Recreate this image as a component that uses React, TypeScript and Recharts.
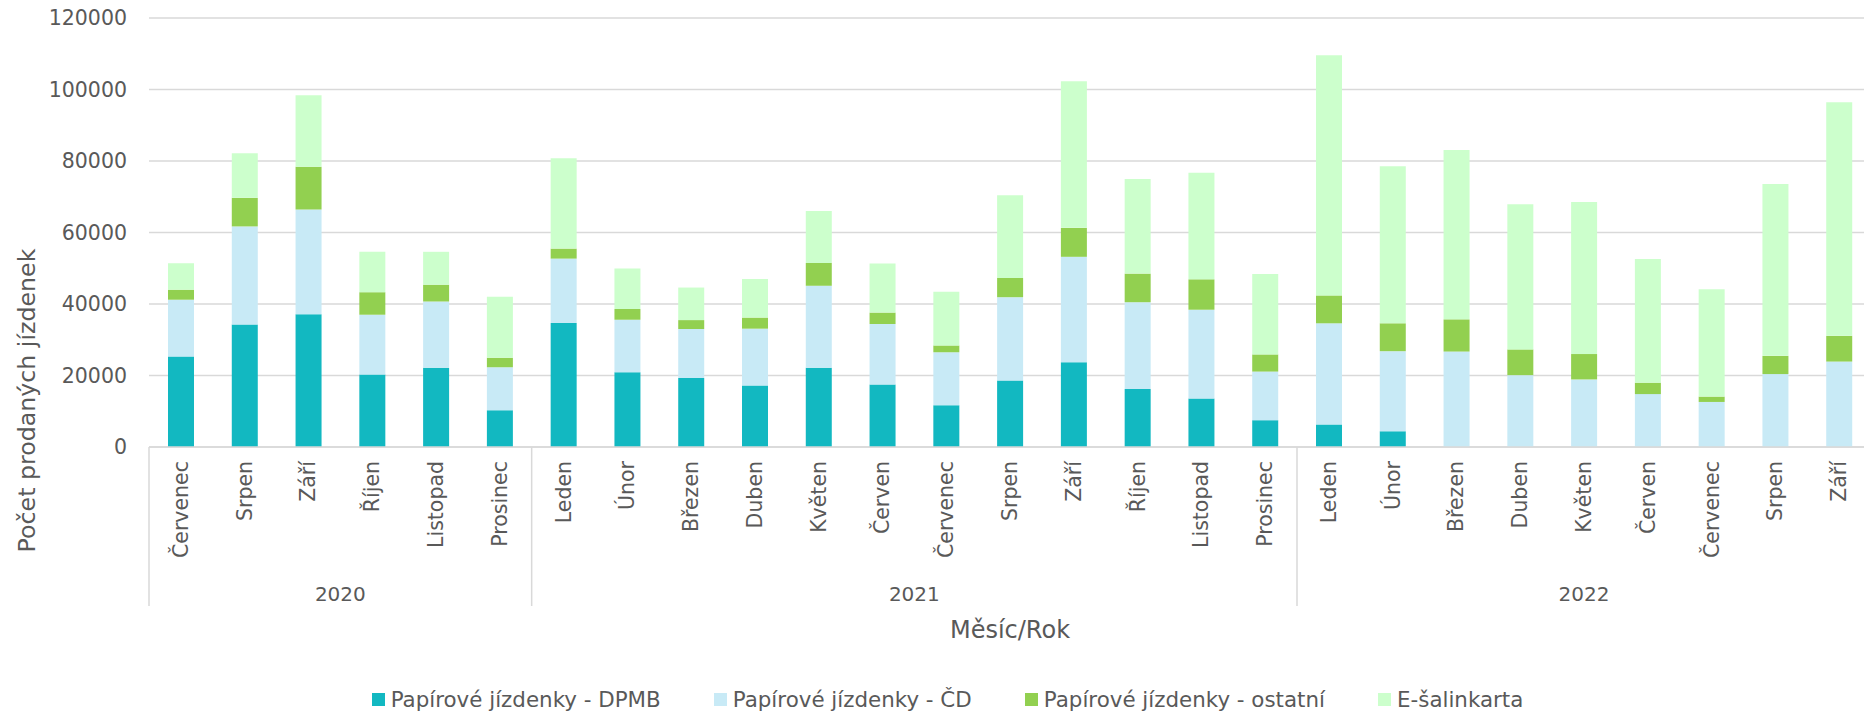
import React from "react"
import { Bar, BarChart, CartesianGrid, Legend, XAxis, YAxis } from "recharts"

const years = ["2020", "2021", "2022"]
const months2020 = ["Červenec", "Srpen", "Září", "Říjen", "Listopad", "Prosinec"]
const months2021 = ["Leden", "Únor", "Březen", "Duben", "Květen", "Červen", "Červenec", "Srpen", "Září", "Říjen", "Listopad", "Prosinec"]
const months2022 = ["Leden", "Únor", "Březen", "Duben", "Květen", "Červen", "Červenec", "Srpen", "Září"]

const dpmb = [25300, 34300, 37100, 20300, 22200, 10300, 34700, 20900, 19300, 17200, 22200, 17500, 11700, 18600, 23700, 16200, 13600, 7500, 6300, 4400, 0, 0, 0, 0, 0, 0, 0]
const cd = [15900, 27400, 29300, 16700, 18500, 12000, 18000, 14700, 13700, 15900, 22900, 16900, 14800, 23300, 29500, 24300, 24800, 13600, 28300, 22400, 26700, 20100, 18900, 14800, 12600, 20400, 23900]
const ostatni = [2800, 8000, 12000, 6300, 4700, 2700, 2800, 3000, 2500, 3100, 6400, 3200, 1900, 5400, 8100, 8000, 8500, 4800, 7800, 7800, 9000, 7200, 7100, 3200, 1500, 5100, 7200]
const esalinkarta = [7400, 12500, 20000, 11300, 9200, 17000, 25300, 11300, 9100, 10800, 14500, 13700, 15000, 23100, 41000, 26500, 29800, 22500, 67200, 43900, 47400, 40600, 42500, 34600, 30000, 48100, 65300]

const yTicks = [0, 20000, 40000, 60000, 80000, 100000, 120000]

const series = [
  { key: "dpmb", name: "Papírové jízdenky - DPMB", color: "#12b8c1" },
  { key: "cd", name: "Papírové jízdenky - ČD", color: "#c8eaf6" },
  { key: "ostatni", name: "Papírové jízdenky - ostatní", color: "#92d050" },
  { key: "esalinkarta", name: "E-šalinkarta", color: "#ccffcc" },
]

const groups = [months2020, months2021, months2022]

const rows: any[] = []
groups.forEach((list, g) => {
  list.forEach((m, i) => {
    const n = rows.length
    rows.push({
      key: `${m} ${years[g]}`,
      month: m,
      year: years[g],
      first: i === 0,
      len: list.length,
      dpmb: dpmb[n],
      cd: cd[n],
      ostatni: ostatni[n],
      esalinkarta: esalinkarta[n],
    })
  })
})

const FONT = "'DejaVu Sans', sans-serif"
const TXT = "#595959"
const GRID = "#d9d9d9"

function MonthTick(props: any) {
  const { x, y, payload, index } = props
  const row = rows[payload?.index ?? index]
  if (!row) return null
  const half = payload?.offset ?? 0
  const left = x - half
  return (
    <g>
      <text
        transform={`translate(${x},${y + 14}) rotate(-90)`}
        textAnchor="end"
        dominantBaseline="central"
        fontFamily={FONT}
        fontSize={20.5}
        fill={TXT}
      >
        {row.month}
      </text>
      {row.first && <line x1={left} x2={left} y1={y} y2={y + 159} stroke={GRID} strokeWidth={1.5} />}
      {row.first && (
        <text
          x={left + row.len * half}
          y={y + 147}
          textAnchor="middle"
          dominantBaseline="central"
          fontFamily={FONT}
          fontSize={20}
          fill={TXT}
        >
          {row.year}
        </text>
      )}
    </g>
  )
}

// the title sits low in the original, running past the zero line
const yTitle = (props: any) => {
  const vb = props.viewBox
  const cx = vb.x + 27
  const cy = vb.y + vb.height / 2 + 168
  return (
    <text
      transform={`translate(${cx},${cy}) rotate(-90)`}
      textAnchor="middle"
      dominantBaseline="central"
      fontFamily={FONT}
      fontSize={23.7}
      fill={TXT}
    >
      Počet prodaných jízdenek
    </text>
  )
}

const xTitle = (props: any) => {
  const vb = props.viewBox
  return (
    <text
      x={vb.x + vb.width / 2}
      y={vb.y + 183}
      textAnchor="middle"
      dominantBaseline="central"
      fontFamily={FONT}
      fontSize={24}
      fill={TXT}
    >
      Měsíc/Rok
    </text>
  )
}

const renderLegend = () => (
  <div
    style={{
      display: "flex",
      justifyContent: "center",
      alignItems: "center",
      height: 26,
      gap: 53,
      fontFamily: FONT,
      fontSize: 21.4,
      color: TXT,
      paddingLeft: 24,
    }}
  >
    {series.map((s) => (
      <div key={s.key} style={{ display: "flex", alignItems: "center", whiteSpace: "nowrap" }}>
        <span style={{ width: 13, height: 13, background: s.color, marginRight: 6, display: "inline-block" }} />
        <span>{s.name}</span>
      </div>
    ))}
  </div>
)

export default function App() {
  return (
    <div style={{ position: "absolute", left: 0, top: 0, width: 1864, height: 712, overflow: "hidden", background: "#fff" }}>
      <BarChart width={1872} height={712} data={rows} margin={{ top: 18, right: 1, bottom: 0, left: 0 }}>
        <CartesianGrid vertical={false} stroke={GRID} strokeWidth={1.5} />
        <XAxis
          dataKey="key"
          height={239}
          interval={0}
          tickSize={0}
          tickMargin={0}
          tickLine={false}
          axisLine={{ stroke: GRID, strokeWidth: 1.5 }}
          tick={<MonthTick />}
          label={xTitle}
        />
        <YAxis
          width={149}
          domain={[0, 120000]}
          ticks={yTicks}
          tickSize={0}
          tickMargin={22}
          tickLine={false}
          axisLine={false}
          tick={{ fontFamily: FONT, fontSize: 20.5, fill: TXT }}
          label={yTitle}
        />
        <Legend verticalAlign="bottom" content={renderLegend} />
        {series.map((s) => (
          <Bar key={s.key} dataKey={s.key} name={s.name} stackId="a" fill={s.color} barSize={26} isAnimationActive={false} />
        ))}
      </BarChart>
    </div>
  )
}
